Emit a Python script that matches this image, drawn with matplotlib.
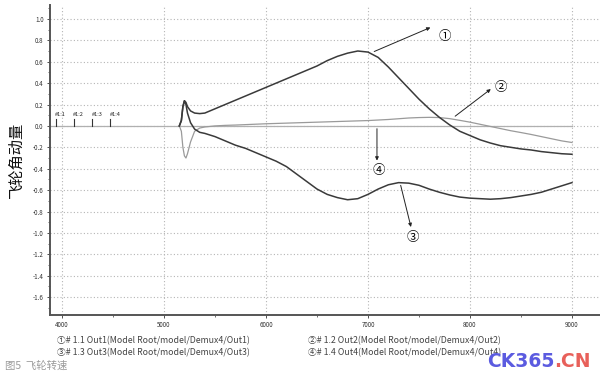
import matplotlib.pyplot as plt
from matplotlib.ticker import MultipleLocator, FixedLocator

plt.rcParams['font.family'] = ['Noto Sans CJK SC', 'DejaVu Sans']

# ---------- data ----------
t = [5150, 5170, 5185, 5200, 5215, 5230, 5260, 5300, 5350, 5400,
     5500, 5600, 5700, 5800, 5900, 6000, 6100, 6200, 6300, 6400, 6500,
     6600, 6700, 6800, 6900, 7000, 7100, 7200, 7300, 7400, 7500, 7600,
     7700, 7800, 7900, 8000, 8100, 8200, 8300, 8400, 8500, 8600, 8700,
     8800, 8900, 9000]

out1 = [0, 0.05, 0.18, 0.235, 0.22, 0.18, 0.14, 0.12, 0.115, 0.12,
        0.16, 0.20, 0.24, 0.28, 0.32, 0.36, 0.40, 0.44, 0.48, 0.52, 0.56,
        0.61, 0.65, 0.68, 0.70, 0.69, 0.64, 0.55, 0.45, 0.35, 0.25, 0.16,
        0.08, 0.01, -0.05, -0.09, -0.13, -0.16, -0.185, -0.20, -0.215, -0.225, -0.24,
        -0.25, -0.26, -0.265]

out2 = [0, -0.05, -0.20, -0.28, -0.30, -0.26, -0.15, -0.05, -0.02, -0.01,
        0.0, 0.005, 0.008, 0.012, 0.016, 0.02, 0.023, 0.026, 0.029, 0.032, 0.035,
        0.038, 0.041, 0.044, 0.047, 0.05, 0.055, 0.06, 0.067, 0.074, 0.078, 0.08,
        0.078, 0.068, 0.052, 0.035, 0.015, -0.005, -0.025, -0.045, -0.062, -0.08, -0.10,
        -0.12, -0.14, -0.155]

out3 = [0, 0.05, 0.18, 0.235, 0.20, 0.12, 0.03, -0.03, -0.06, -0.07,
        -0.10, -0.14, -0.18, -0.21, -0.25, -0.29, -0.33, -0.38, -0.45, -0.52, -0.59,
        -0.64, -0.67, -0.69, -0.68, -0.64, -0.59, -0.55, -0.53, -0.535, -0.555, -0.59,
        -0.62, -0.645, -0.665, -0.675, -0.68, -0.685, -0.68, -0.67, -0.655, -0.64, -0.62,
        -0.59, -0.56, -0.53]

out4_t = [3880, 9000]
out4 = [0, 0]

marker_t = [3938, 4115, 4294, 4470]
marker_lbl = ['#1:1', '#1:2', '#1:3', '#1:4']

legend_lbl = ['①# 1.1 Out1(Model Root/model/Demux4/Out1)',
              '②# 1.2 Out2(Model Root/model/Demux4/Out2)',
              '③# 1.3 Out3(Model Root/model/Demux4/Out3)',
              '④# 1.4 Out4(Model Root/model/Demux4/Out4)']

# ---------- figure ----------
fig = plt.figure(figsize=(6, 3.84), dpi=100)
ax = fig.add_axes([0.083, 0.18, 0.917, 0.807])

ax.plot(out4_t, out4, color='#b0b0b0', lw=0.9)
ax.plot(t, out2, color='#9a9a9a', lw=0.9)
ax.plot(t, out3, color='#3a3a3a', lw=1.1)
ax.plot(t, out1, color='#3a3a3a', lw=1.1)

ax.set_xlim(3880, 9275)
ax.set_ylim(-1.766, 1.13)

ax.xaxis.set_major_locator(MultipleLocator(1000))
ax.xaxis.set_minor_locator(MultipleLocator(500))
ax.yaxis.set_major_locator(FixedLocator([round(-1.6 + 0.2 * i, 1) for i in range(14)]))
ax.yaxis.set_minor_locator(MultipleLocator(0.1))
ax.tick_params(axis='both', which='major', labelsize=4.5, length=2.5, width=0.6,
               colors='#333333', pad=2)
ax.tick_params(axis='both', which='minor', length=1.5, width=0.5, colors='#333333')
ax.set_yticklabels([f'{v:.1f}' for v in ax.get_yticks()])

ax.grid(True, which='major', linestyle=(0, (1, 2)), color='#b5b5b5', lw=0.8)

for s in ['top', 'right']:
    ax.spines[s].set_visible(False)
for s in ['left', 'bottom']:
    ax.spines[s].set_color('#555555')
    ax.spines[s].set_linewidth(1.4)

ax.set_ylabel('飞轮角动量', fontsize=11, color='#111111', labelpad=6)

# channel markers
for mt, ml in zip(marker_t, marker_lbl):
    ax.plot([mt, mt], [0, 0.065], color='#333333', lw=0.8)
    ax.text(mt - 5, 0.11, ml, fontsize=4, color='#222222', va='center', ha='left')

# callouts
arrow = dict(arrowstyle='-|>', color='#222222', lw=0.7, mutation_scale=5)
ax.annotate('', xy=(7637, 0.93), xytext=(7036, 0.685), arrowprops=arrow)
ax.text(7755, 0.84, '①', fontsize=9, ha='center', va='center')
ax.annotate('', xy=(8226, 0.36), xytext=(7833, 0.075), arrowprops=arrow)
ax.text(8300, 0.36, '②', fontsize=9, ha='center', va='center')
ax.annotate('', xy=(7428, -0.97), xytext=(7314, -0.53), arrowprops=arrow)
ax.text(7441, -1.04, '③', fontsize=9, ha='center', va='center')
ax.annotate('', xy=(7088, -0.35), xytext=(7088, 0.0), arrowprops=arrow)
ax.text(7108, -0.42, '④', fontsize=9, ha='center', va='center')

# legend text under the axes
fig.text(57 / 600, 1 - 341 / 384, legend_lbl[0], fontsize=6.3, color='#444444', va='center')
fig.text(308 / 600, 1 - 341 / 384, legend_lbl[1], fontsize=6.3, color='#444444', va='center')
fig.text(57 / 600, 1 - 353 / 384, legend_lbl[2], fontsize=6.3, color='#444444', va='center')
fig.text(308 / 600, 1 - 353 / 384, legend_lbl[3], fontsize=6.3, color='#444444', va='center')

fig.text(5 / 600, 1 - 366 / 384, '图5  飞轮转速', fontsize=7.5, color='#9a9a9a', va='center')

# watermark
wm = fig.text(487 / 600, 1 - 367 / 384, 'CK365', fontsize=13.5, fontweight='bold',
              color='#5b5be0', va='baseline', family='DejaVu Sans')
ax.annotate('.CN', xy=(1, 0), xycoords=wm, va='bottom', ha='left',
            fontsize=13.5, fontweight='bold', color='#e8605a',
            family='DejaVu Sans', annotation_clip=False)

fig.savefig('out.png', dpi=100)
